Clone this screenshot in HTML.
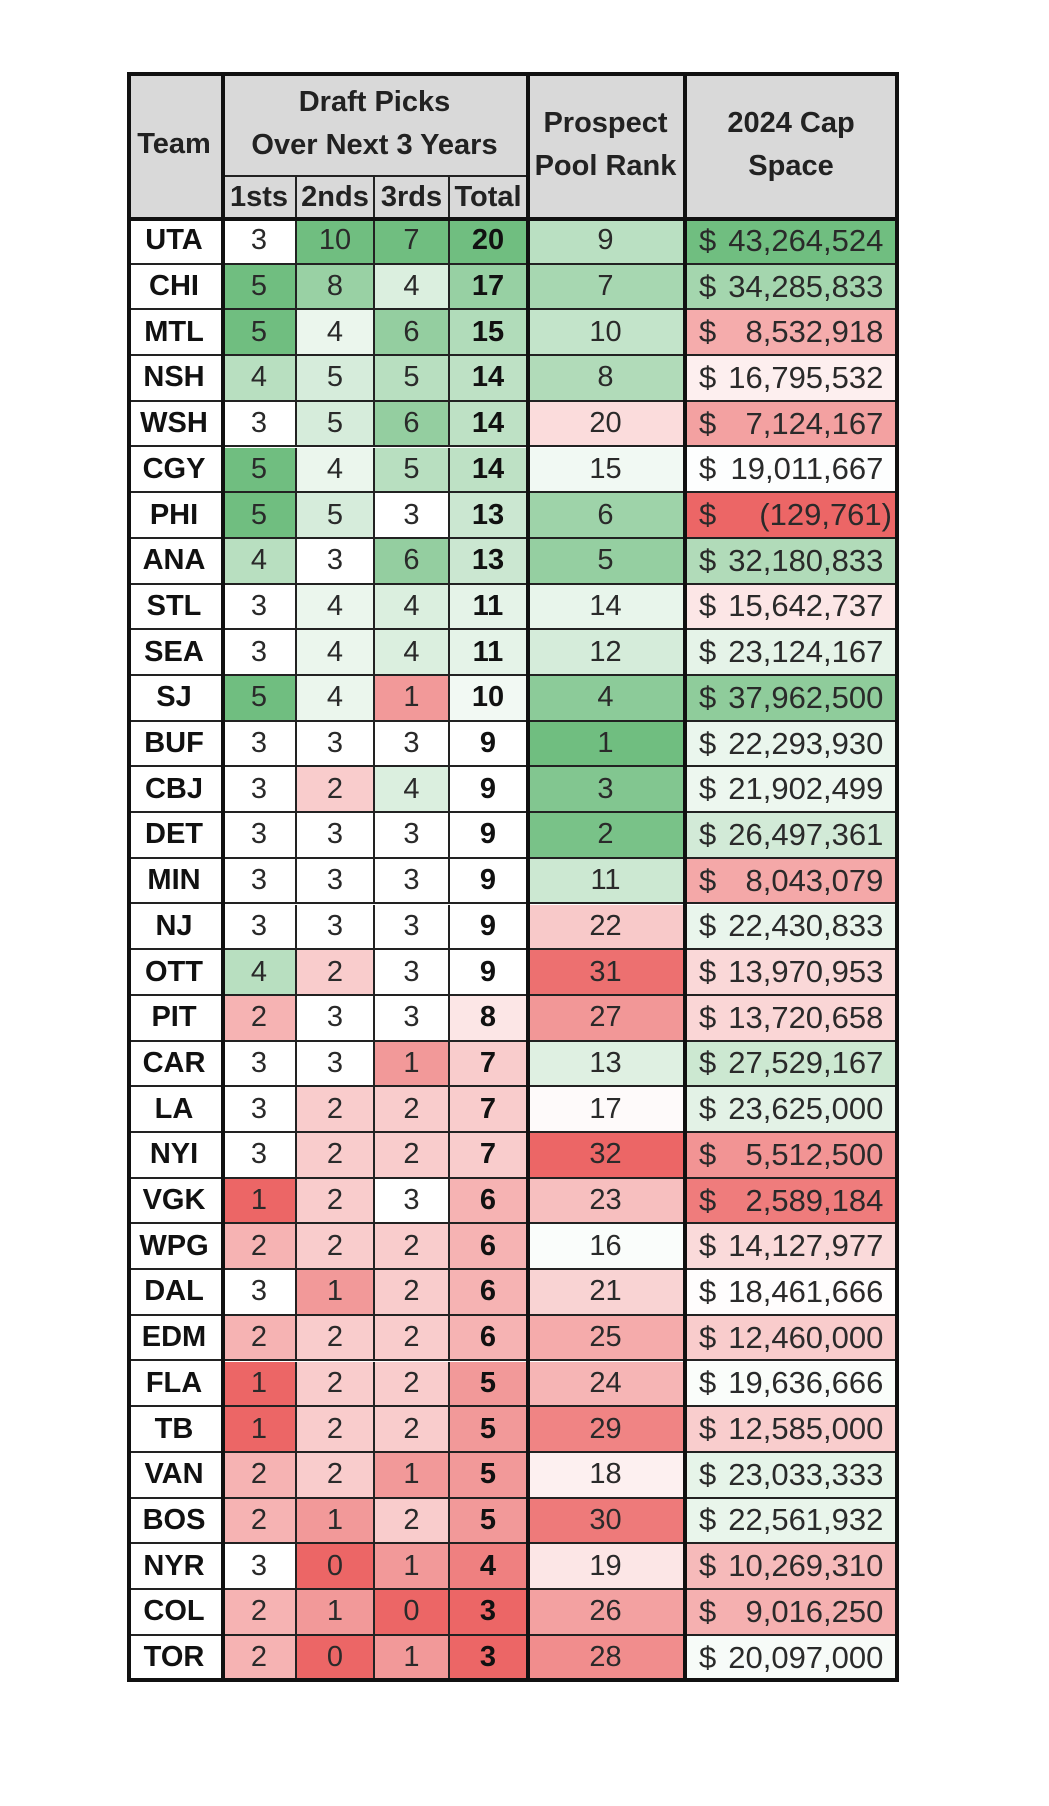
<!DOCTYPE html>
<html><head><meta charset="utf-8">
<style>
html,body{margin:0;padding:0;background:#fff;}
body{width:1049px;height:1806px;position:relative;overflow:hidden;font-family:"Liberation Sans Narrow","Liberation Sans",sans-serif;}
.c{position:absolute;box-sizing:border-box;display:flex;align-items:center;justify-content:center;font-size:29px;color:#2a2a2a;border-right:2px solid #222;border-bottom:2px solid #222;}
.c span{display:inline-block;white-space:nowrap;}
.h{background:#d9d9d9;font-weight:bold;text-align:center;line-height:1.45;color:#222;}
.b{font-weight:bold;color:#111;}
#tbl{position:absolute;left:127px;top:72px;width:772px;height:1610px;border:4px solid #111;box-sizing:border-box;pointer-events:none;}
.vl{position:absolute;background:#111;width:4px;}
</style></head><body>
<div id="root"></div>
<script>
const teams=["UTA","CHI","MTL","NSH","WSH","CGY","PHI","ANA","STL","SEA","SJ","BUF","CBJ","DET","MIN","NJ","OTT","PIT","CAR","LA","NYI","VGK","WPG","DAL","EDM","FLA","TB","VAN","BOS","NYR","COL","TOR"];
const firsts=[3,5,5,4,3,5,5,4,3,3,5,3,3,3,3,3,4,2,3,3,3,1,2,3,2,1,1,2,2,3,2,2];
const seconds=[10,8,4,5,5,4,5,3,4,4,4,3,2,3,3,3,2,3,3,2,2,2,2,1,2,2,2,2,1,0,1,0];
const thirds=[7,4,6,5,6,5,3,6,4,4,1,3,4,3,3,3,3,3,1,2,2,3,2,2,2,2,2,1,2,1,0,1];
const totals=[20,17,15,14,14,14,13,13,11,11,10,9,9,9,9,9,9,8,7,7,7,6,6,6,6,5,5,5,5,4,3,3];
const prospectRank=[9,7,10,8,20,15,6,5,14,12,4,1,3,2,11,22,31,27,13,17,32,23,16,21,25,24,29,18,30,19,26,28];
const capSpace=[43264524,34285833,8532918,16795532,7124167,19011667,-129761,32180833,15642737,23124167,37962500,22293930,21902499,26497361,8043079,22430833,13970953,13720658,27529167,23625000,5512500,2589184,14127977,18461666,12460000,19636666,12585000,23033333,22561932,10269310,9016250,20097000];

const colX=[127,223,297,375,450,528,685,899];
const top0=72, headH=147, subY=177, rowH=45.7;
const root=document.getElementById('root');
function median(a){const s=[...a].sort((x,y)=>x-y);const n=s.length;return n%2?s[(n-1)/2]:(s[n/2-1]+s[n/2])/2;}
const G=[112,190,128],R=[236,102,102],W=[255,255,255];
function mix(a,b,t){return 'rgb('+a.map((v,i)=>Math.round(v+(b[i]-v)*t)).join(',')+')';}
function scale(arr,v,inv){let mn=Math.min(...arr),mx=Math.max(...arr),md=median(arr);
  if(inv){ if(v<=md) return mix(W,G,(md-v)/(md-mn||1)); return mix(W,R,(v-md)/(mx-md||1)); }
  if(v>=md) return mix(W,G,(v-md)/(mx-md||1)); return mix(W,R,(md-v)/(md-mn||1));}
function cell(x1,y1,x2,y2,html,cls,bg,name){const d=document.createElement('div');d.className='c '+(cls||'');
  d.style.left=x1+'px';d.style.top=y1+'px';d.style.width=(x2-x1)+'px';d.style.height=(y2-y1)+'px';
  if(bg)d.style.background=bg;d.innerHTML='<span>'+html+'</span>';
  
  
  root.appendChild(d);return d;}
const hb=top0+headH;
cell(colX[0],top0,colX[1],hb,'Team','h',null,'team-header');
cell(colX[1],top0,colX[5],subY,'Draft Picks<br>Over Next 3 Years','h',null,'draft-picks-header');
['1sts','2nds','3rds','Total'].forEach((t,i)=>cell(colX[1+i],subY,colX[2+i],hb,t,'h',null,'picks-subheader-'+t.toLowerCase()));
cell(colX[5],top0,colX[6],hb,'Prospect<br>Pool Rank','h',null,'prospect-rank-header');
cell(colX[6],top0,colX[7],hb,'2024 Cap<br>Space','h',null,'cap-space-header');
function fmt(v){const s=Math.abs(v).toLocaleString('en-US');return v<0?'('+s+')':s+'&nbsp;';}
teams.forEach((t,i)=>{
  const y1=hb+i*rowH,y2=hb+(i+1)*rowH;
  cell(colX[0],y1,colX[1],y2,t,'b','#fff','team-'+t.toLowerCase());
  cell(colX[1],y1,colX[2],y2,firsts[i],'',scale(firsts,firsts[i]),'firsts-'+t.toLowerCase());
  cell(colX[2],y1,colX[3],y2,seconds[i],'',scale(seconds,seconds[i]),'seconds-'+t.toLowerCase());
  cell(colX[3],y1,colX[4],y2,thirds[i],'',scale(thirds,thirds[i]),'thirds-'+t.toLowerCase());
  cell(colX[4],y1,colX[5],y2,totals[i],'b',scale(totals,totals[i]),'total-'+t.toLowerCase());
  cell(colX[5],y1,colX[6],y2,prospectRank[i],'',scale(prospectRank,prospectRank[i],true),'prospect-rank-'+t.toLowerCase());
  const d=document.createElement('div');d.className='c';
  d.style.left=colX[6]+'px';d.style.top=y1+'px';d.style.width=(colX[7]-colX[6])+'px';d.style.height=(y2-y1)+'px';
  d.style.background=scale(capSpace,capSpace[i]);d.style.justifyContent='space-between';d.style.padding='0 5px 0 14px';d.style.fontSize='31px';
  d.innerHTML='<span>$</span><span>'+fmt(capSpace[i])+'</span>';
  
  
  root.appendChild(d);
});
const tb=document.createElement('div');tb.id='tbl';


root.appendChild(tb);
[1,5,6].forEach(k=>{const v=document.createElement('div');v.className='vl';v.style.left=(colX[k]-2)+'px';v.style.top=top0+'px';v.style.height='1610px';


root.appendChild(v);});
const hl=document.createElement('div');hl.className='vl';hl.style.left=colX[0]+'px';hl.style.top=(hb-2)+'px';hl.style.width='772px';hl.style.height='4px';


root.appendChild(hl);
</script>
</body></html>
